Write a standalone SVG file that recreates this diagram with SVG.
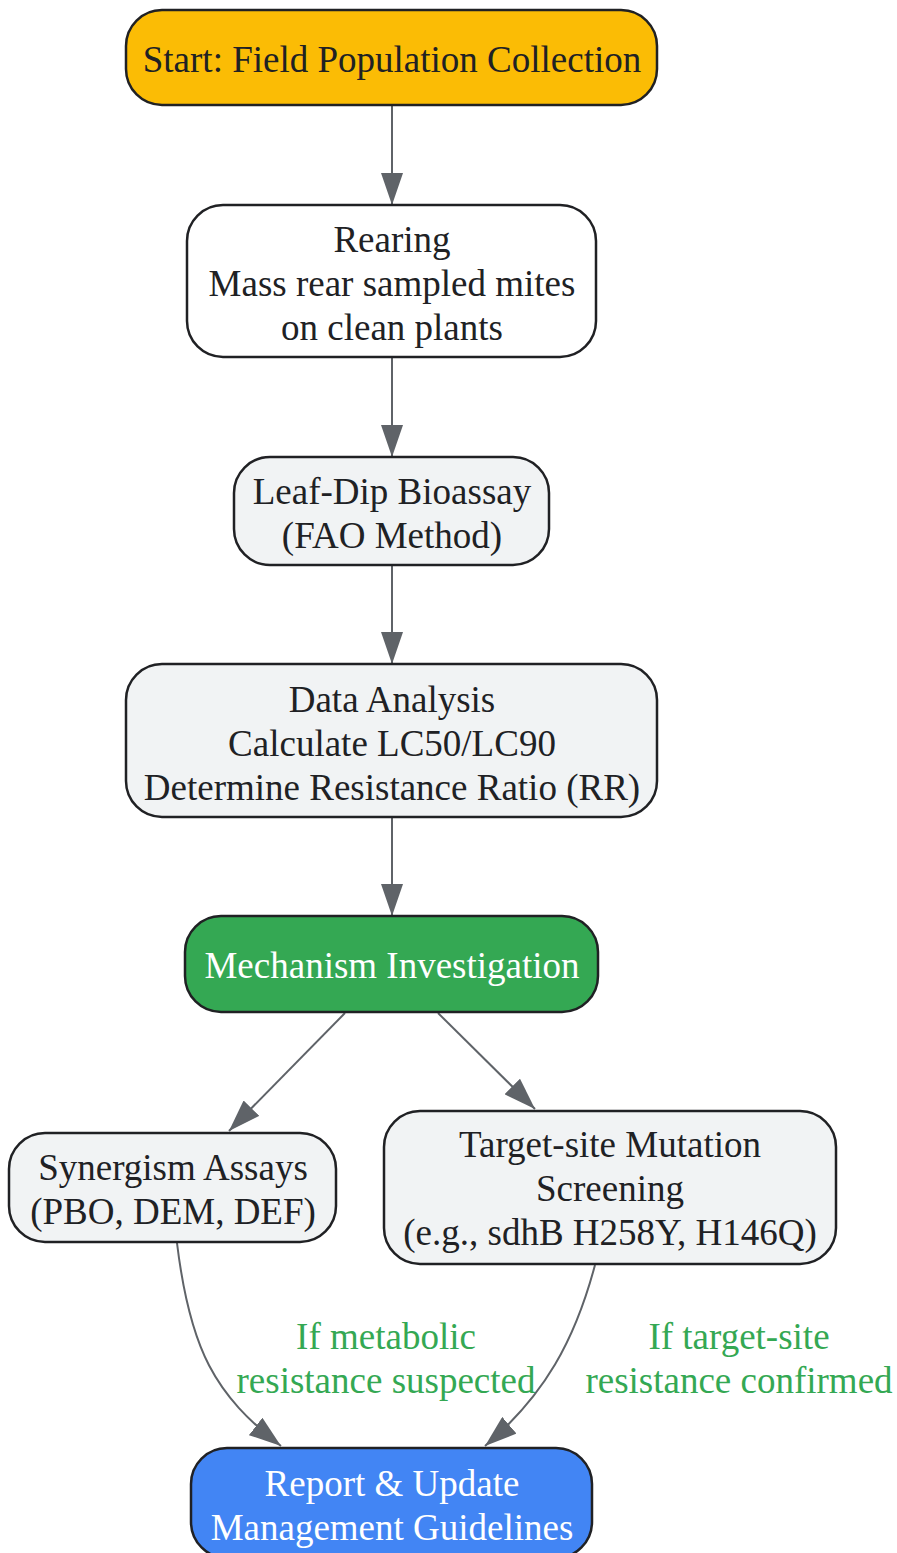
<svg xmlns="http://www.w3.org/2000/svg" width="897" height="1553" viewBox="0 0 897 1553">
<defs>
<style>
.n{stroke:#202124;stroke-width:2.5}
.t{font-family:"Liberation Serif","Times New Roman",serif;font-size:37px;fill:#202124;text-anchor:middle}
.w{fill:#ffffff}
.e{fill:none;stroke:#5f6368;stroke-width:2}
.l{font-family:"Liberation Serif","Times New Roman",serif;font-size:37px;fill:#34A853;text-anchor:middle}
</style>
<marker id="ah" markerUnits="userSpaceOnUse" markerWidth="32" markerHeight="22" refX="32" refY="11" orient="auto">
<path d="M0,0 L32,11 L0,22 z" fill="#5f6368"/>
</marker>
</defs>
<rect width="897" height="1553" fill="#ffffff"/>
<g id="connectors">
<line class="e" x1="392" y1="105" x2="392" y2="205" marker-end="url(#ah)"/>
<line class="e" x1="392" y1="357" x2="392" y2="457" marker-end="url(#ah)"/>
<line class="e" x1="392" y1="565" x2="392" y2="664" marker-end="url(#ah)"/>
<line class="e" x1="392" y1="817" x2="392" y2="916" marker-end="url(#ah)"/>
<line class="e" x1="345" y1="1013" x2="229" y2="1131" marker-end="url(#ah)"/>
<line class="e" x1="438" y1="1013" x2="535" y2="1109" marker-end="url(#ah)"/>
<path class="e" d="M177,1243 C190,1350 215,1395 281,1446" marker-end="url(#ah)"/>
<path class="e" d="M595,1265 C575,1340 545,1395 485,1446" marker-end="url(#ah)"/>
<text class="l" x="386" y="1349">If metabolic</text>
<text class="l" x="386" y="1393">resistance suspected</text>
<text class="l" x="739" y="1349">If target-site</text>
<text class="l" x="739" y="1393">resistance confirmed</text>
</g>
<g id="start">
<rect class="n" x="126" y="10" width="531" height="95" rx="36" fill="#FBBC05"/>
<text class="t" x="392" y="72">Start: Field Population Collection</text>
</g>
<g id="rearing">
<rect class="n" x="187" y="205" width="409" height="152" rx="36" fill="#ffffff"/>
<text class="t" x="392" y="252">Rearing</text>
<text class="t" x="392" y="296">Mass rear sampled mites</text>
<text class="t" x="392" y="340">on clean plants</text>
</g>
<g id="bioassay">
<rect class="n" x="234" y="457" width="315" height="108" rx="36" fill="#F1F3F4"/>
<text class="t" x="392" y="504">Leaf-Dip Bioassay</text>
<text class="t" x="392" y="548">(FAO Method)</text>
</g>
<g id="analysis">
<rect class="n" x="126" y="664" width="531" height="153" rx="36" fill="#F1F3F4"/>
<text class="t" x="392" y="712">Data Analysis</text>
<text class="t" x="392" y="756">Calculate LC50/LC90</text>
<text class="t" x="392" y="800">Determine Resistance Ratio (RR)</text>
</g>
<g id="mechanism">
<rect class="n" x="185" y="916" width="413" height="96" rx="36" fill="#34A853"/>
<text class="t w" x="392" y="978">Mechanism Investigation</text>
</g>
<g id="synergism">
<rect class="n" x="9" y="1133" width="327" height="109" rx="36" fill="#F1F3F4"/>
<text class="t" x="173" y="1180">Synergism Assays</text>
<text class="t" x="173" y="1224">(PBO, DEM, DEF)</text>
</g>
<g id="targetsite">
<rect class="n" x="384" y="1111" width="452" height="153" rx="36" fill="#F1F3F4"/>
<text class="t" x="610" y="1157">Target-site Mutation</text>
<text class="t" x="610" y="1201">Screening</text>
<text class="t" x="610" y="1245">(e.g., sdhB H258Y, H146Q)</text>
</g>
<g id="report">
<rect class="n" x="191" y="1448" width="401" height="110" rx="36" fill="#4285F4"/>
<text class="t w" x="392" y="1496">Report &amp; Update</text>
<text class="t w" x="392" y="1540">Management Guidelines</text>
</g>
</svg>
